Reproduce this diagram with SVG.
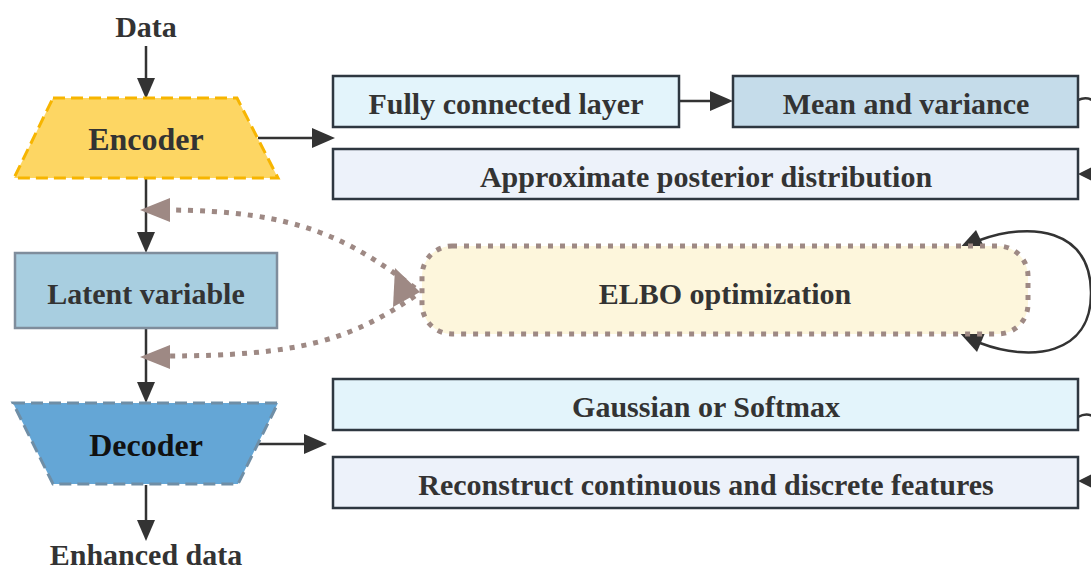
<svg xmlns="http://www.w3.org/2000/svg" width="1091" height="571" viewBox="0 0 1091 571">
<defs>
<style>
.t{font-family:'Liberation Serif',serif;font-weight:700;fill:#333;text-anchor:middle;font-size:30px}
.box{stroke:#2e3740;stroke-width:2.5}
.edge{fill:none;stroke:#333;stroke-width:2.5}
.dot{fill:none;stroke:#9e8984;stroke-width:5;stroke-dasharray:5 7}
</style>
</defs>
<rect width="1091" height="571" fill="#fff"/>
<g id="connectors">
<path d="M146 46 V84" class="edge"/><path d="M137 78 L155 78 L146 99 z" fill="#333"/>
<path class="edge" d="M146 179 V238"/><path d="M137 232 L155 232 L146 253 z" fill="#333"/>
<path class="edge" d="M146 328 V388"/><path d="M137 382 L155 382 L146 403 z" fill="#333"/>
<path class="edge" d="M146 485 V526"/><path d="M137 520 L155 520 L146 541 z" fill="#333"/>
<path class="edge" d="M258 138 H318"/><path d="M312 128 L335 138 L312 148 z" fill="#333"/>
<path class="edge" d="M258 444 H310"/><path d="M304 434 L327 444 L304 454 z" fill="#333"/>
<path class="edge" d="M679 101 H716"/><path d="M710 91 L733 101 L710 111 z" fill="#333"/>
<path class="edge" d="M1078 100 C1100 90 1110 125 1100 150 C1096 163 1092 170 1092 172"/><path d="M1078 174 L1096 165 L1096 183 z" fill="#333"/>
<path class="edge" d="M1078 417 C1100 405 1110 440 1100 463 C1096 473 1092 478 1092 480"/><path d="M1078 481 L1096 472 L1096 490 z" fill="#333"/>
<path class="edge" d="M980 343 C1030 362 1092 356 1091 292 C1090 228 1030 222 980 240"/>
<path d="M958 250 L976 230 L985 249 z" fill="#333"/>
<path d="M958 331 L985 333 L977 352 z" fill="#333"/>
<path class="dot" d="M415 288 C350 240 300 210 165 210"/>
<path class="dot" d="M415 296 C350 340 300 356 165 356"/>
<path d="M140 210 L170 198 L170 222 z" fill="#9e8984"/>
<path d="M140 357 L170 345 L170 369 z" fill="#9e8984"/>
<path d="M420 292 L395 268 L393 307 z" fill="#9e8984"/>
</g>
<g id="data"><text class="t" x="146" y="37">Data</text></g>
<g id="encoder"><path d="M53 98 H237 L278 178 H14 z" fill="#fdd663" stroke="#f7b500" stroke-width="3" stroke-dasharray="12 6"/><text class="t" x="146" y="150" style="font-size:32px">Encoder</text></g>
<g id="latent"><rect x="15" y="253" width="262" height="75" fill="#a8cee0" stroke="#7f8d9c" stroke-width="2.5"/><text class="t" x="146" y="304">Latent variable</text></g>
<g id="decoder"><path d="M13 403 H278 L238 484 H53 z" fill="#64a6d6" stroke="#6f8ea6" stroke-width="3" stroke-dasharray="12 6"/><text class="t" x="146" y="456" style="font-size:32px;fill:#111">Decoder</text></g>
<g id="enhanced"><text class="t" x="146" y="565">Enhanced data</text></g>
<g id="fc"><rect class="box" x="333" y="76" width="346" height="51" fill="#e3f4fb"/><text class="t" x="506" y="114">Fully connected layer</text></g>
<g id="mv"><rect class="box" x="733" y="76" width="345" height="51" fill="#c5dcea"/><text class="t" x="906" y="114">Mean and variance</text></g>
<g id="approx"><rect class="box" x="333" y="149" width="745" height="50" fill="#edf2fa"/><text class="t" x="706" y="187">Approximate posterior distribution</text></g>
<g id="elbo"><rect x="422" y="246" width="606" height="88" rx="30" fill="#fdf6dc" stroke="#9e8984" stroke-width="5" stroke-dasharray="5 7"/><text class="t" x="725" y="304">ELBO optimization</text></g>
<g id="gauss"><rect class="box" x="333" y="379" width="745" height="51" fill="#e3f4fb"/><text class="t" x="706" y="417">Gaussian or Softmax</text></g>
<g id="recon"><rect class="box" x="333" y="457" width="745" height="51" fill="#edf2fa"/><text class="t" x="706" y="495">Reconstruct continuous and discrete features</text></g>
</svg>
